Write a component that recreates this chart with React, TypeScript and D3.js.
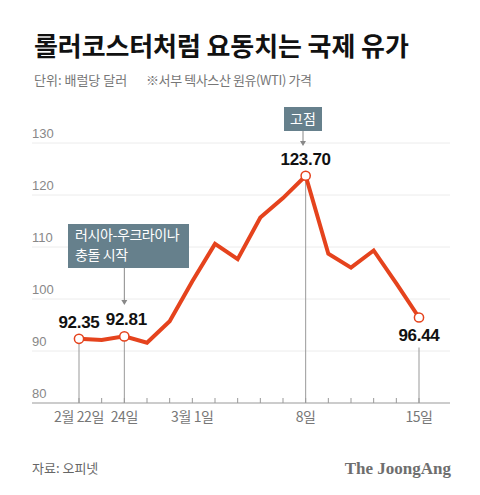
import React from "react";
import * as d3 from "d3";

const dates = ["2/22","2/23","2/24","2/25","2/28","3/1","3/2","3/3","3/4","3/7","3/8","3/9","3/10","3/11","3/14","3/15"];
const prices = [92.35, 92.1, 92.81, 91.59, 95.72, 103.41, 110.6, 107.67, 115.68, 119.4, 123.7, 108.7, 106.02, 109.33, 103.01, 96.44];
const yTicks = [80, 90, 100, 110, 120, 130];
const xLabels: [number, string][] = [[0, "2월 22일"], [2, "24일"], [5, "3월 1일"], [10, "8일"], [15, "15일"]];
const valueLabels: [number, string, "above" | "below"][] = [
  [0, "92.35", "above"], [2, "92.81", "above"], [10, "123.70", "above"], [15, "96.44", "below"],
];
const dropLines = [0, 2, 10, 15];

const KR = "'Noto Sans CJK KR', 'Noto Sans', sans-serif";
const RED = "#e5431d";
const BOX = "#66808c";

export default function App() {
  const x = d3.scaleLinear().domain([0, dates.length - 1]).range([79, 419]);
  const y = d3.scaleLinear().domain([80, 130]).range([403, 143]);
  const line = d3.line<number>().x((_, i) => x(i)).y((d) => y(d)).curve(d3.curveLinear);
  const left = 32, right = 450;

  return (
    <div style={{ position: "absolute", left: 0, top: 0 }}>
      <svg width={480} height={495} style={{ display: "block", background: "#fff" }}>
        <text x={34} y={56} fontFamily={KR} fontWeight={700} fontSize={26} letterSpacing={-0.1} fill="#111">
          롤러코스터처럼 요동치는 국제 유가
        </text>
        <text x={34} y={85} fontFamily={KR} fontSize={13} fill="#777" letterSpacing={0}>
          단위: 배럴당 달러
        </text>
        <text x={146} y={85} fontFamily={KR} fontSize={13} fill="#777" letterSpacing={-0.4}>
          ※서부 텍사스산 원유(WTI) 가격
        </text>

        {yTicks.map((t) => (
          <g key={t}>
            {t > 80 && <line x1={left} x2={right} y1={y(t)} y2={y(t)} stroke="#ececec" strokeWidth={1} />}
            <text x={left} y={y(t) - 5} fontFamily="'Liberation Sans', Arial, sans-serif" fontSize={13} fill="#888">
              {t}
            </text>
          </g>
        ))}

        {dropLines.map((i) => {
          const top = i === 15 ? y(prices[i]) + 30 : y(prices[i]);
          return <line key={i} x1={x(i)} x2={x(i)} y1={top} y2={y(80)} stroke="#999" strokeWidth={1} />;
        })}

        <line x1={left} x2={right} y1={y(80)} y2={y(80)} stroke="#999" strokeWidth={1.2} />
        {dates.map((d, i) => (
          <line key={d} x1={x(i)} x2={x(i)} y1={y(80) - 5} y2={y(80)} stroke="#999" strokeWidth={1} />
        ))}
        {xLabels.map(([i, s]) => (
          <text key={s} x={x(i)} y={422} textAnchor="middle" fontFamily={KR} fontSize={14} fill="#777" letterSpacing={-0.4}>
            {s}
          </text>
        ))}

        <path d={line(prices) || ""} fill="none" stroke={RED} strokeWidth={4} strokeLinejoin="miter" strokeLinecap="round" />
        {valueLabels.map(([i]) => (
          <circle key={i} cx={x(i)} cy={y(prices[i])} r={4.6} fill="#fff" stroke={RED} strokeWidth={1.5} />
        ))}
        {valueLabels.map(([i, s, pos]) => (
          <text key={s} x={x(i) + (i === 2 ? 2 : 0)} y={pos === "above" ? y(prices[i]) - 11 : y(prices[i]) + 23}
            textAnchor="middle" fontFamily="'Liberation Sans', Arial, sans-serif" fontWeight={700} fontSize={17} fill="#111" letterSpacing={-0.3}>
            {s}
          </text>
        ))}

        {/* annotation: conflict start */}
        <rect x={68} y={224} width={121} height={44} fill={BOX} />
        <text x={75} y={240} fontFamily={KR} fontSize={14} fill="#fff" letterSpacing={-0.4}>러시아-우크라이나</text>
        <text x={75} y={260} fontFamily={KR} fontSize={14} fill="#fff" letterSpacing={-0.4}>충돌 시작</text>
        <line x1={x(2)} x2={x(2)} y1={268} y2={303} stroke="#888" strokeWidth={1} />
        <path d={`M${x(2) - 3},${300} L${x(2) + 3},${300} L${x(2)},${305} Z`} fill="#888" />

        {/* annotation: peak */}
        <rect x={284} y={107} width={38} height={24} fill={BOX} />
        <text x={303} y={124} textAnchor="middle" fontFamily={KR} fontSize={14} fill="#fff">고점</text>
        <line x1={303} x2={303} y1={131} y2={143} stroke="#888" strokeWidth={1} />
        <path d={`M300,${141} L306,${141} L303,${146} Z`} fill="#888" />

        <text x={32} y={473} fontFamily={KR} fontSize={13} fill="#666">자료: 오피넷</text>
        <text x={451} y={474} textAnchor="end" fontFamily="'Liberation Serif', 'DejaVu Serif', serif" fontWeight={700} fontSize={17} fill="#6e6e6e">
          The JoongAng
        </text>
      </svg>
    </div>
  );
}
